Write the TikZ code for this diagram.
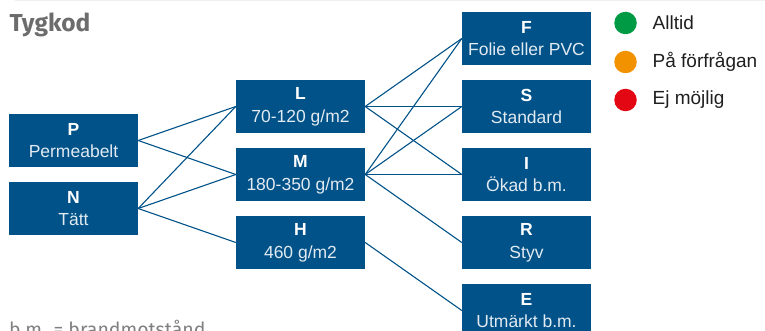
\documentclass[tikz,border=0pt]{standalone}
\usepackage{fontspec}
\setmainfont{Liberation Sans}
\newfontfamily\titlefont{Fira Sans}
\usepackage{xcolor}
\usepackage{tikz}
\usetikzlibrary{positioning}
\definecolor{codeblue}{RGB}{0, 82, 136}
\definecolor{titlegray}{RGB}{108, 108, 108}
\definecolor{notegray}{RGB}{128, 128, 128}
\definecolor{boxtext}{RGB}{226, 234, 242}
\definecolor{alltidgreen}{RGB}{0, 154, 68}
\definecolor{askorange}{RGB}{243, 146, 0}
\definecolor{nogored}{RGB}{227, 6, 19}

\tikzset{
    codebox/.style={fill=codeblue, minimum width=129pt, minimum height=53pt, inner sep=0pt,
        align=center, text=boxtext, font=\fontsize{17.5}{22.7}\selectfont},
    link/.style={draw=codeblue, line width=1.1pt},
    legdot/.style={circle, minimum size=22.5pt, inner sep=0pt},
    legtext/.style={anchor=west, inner sep=0pt, text=black!88, font=\fontsize{19}{22}\selectfont},
}

\begin{document}
\begin{tikzpicture}[x=1pt, y=-1pt]
        \useasboundingbox (0,0) rectangle (765,331);
        \clip (0,0) rectangle (765,331);
        
        % Faint rule at the top
        \draw[line width=1pt, color=black!6] (15,0.5) -- (765,0.5);
        
        % Title
        \node[anchor=base west, inner sep=0pt, font=\titlefont\bfseries\fontsize{24.5}{28}\selectfont, text=titlegray] (title) at (9.5,32) {Tygkod};
        
        % Permeability
        \node[codebox] (P) at (73.5,140.5) {{\bfseries\color{white}P}\\Permeabelt};
        \node[codebox] (N) at (73.5,208.5) {{\bfseries\color{white}N}\\Tätt};
        
        % Weight
        \node[codebox] (L) at (300.5,106.5) {{\bfseries\color{white}L}\\70-120 g/m2};
        \node[codebox] (M) at (300.5,174.5) {{\bfseries\color{white}M}\\180-350 g/m2};
        \node[codebox] (H) at (300.5,242.5) {{\bfseries\color{white}H}\\460 g/m2};
        
        % Finish
        \node[codebox] (F) at (526.5,38.5) {{\bfseries\color{white}F}\\Folie eller PVC};
        \node[codebox] (S) at (526.5,106.5) {{\bfseries\color{white}S}\\Standard};
        \node[codebox] (I) at (526.5,174.5) {{\bfseries\color{white}I}\\Ökad b.m.};
        \node[codebox] (R) at (526.5,242.5) {{\bfseries\color{white}R}\\Styv};
        \node[codebox] (E) at (526.5,310.5) {{\bfseries\color{white}E}\\Utmärkt b.m.};
        
        % Combinations
        \foreach \a/\b in {P/L, P/M, N/L, N/M, N/H, L/F, L/S, L/I, M/F, M/S, M/I, M/R, H/E} {
            \draw[link] (\a.east) -- (\b.west);
        }
        
        % Legend
        \foreach \y/\c/\t [count=\i] in {23/alltidgreen/Alltid, 62/askorange/På förfrågan, 100/nogored/Ej möjlig} {
            \node[legdot, fill=\c] (dot\i) at (625.5,\y) {};
            \node[legtext, right=15.5pt of dot\i] (leg\i) {\t};
        }
        
        % Note
        \node[anchor=base west, inner sep=0pt, font=\titlefont\fontsize{19.5}{22}\selectfont, text=notegray] (note) at (9,336) {b.m. = brandmotstånd};
    \end{tikzpicture}
\end{document}
